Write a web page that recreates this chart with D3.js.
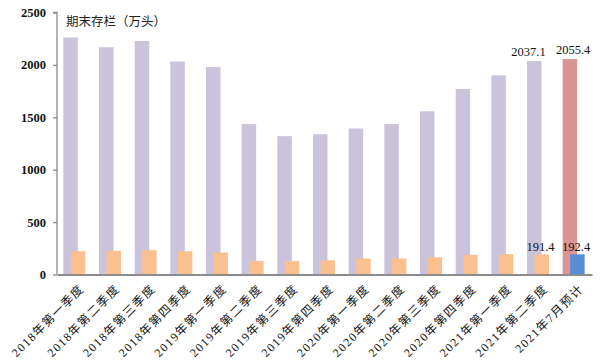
<!DOCTYPE html>
<html><head><meta charset="utf-8">
<script src="https://cdn.jsdelivr.net/npm/d3@7"></script>
<style>body{margin:0;background:#fff}svg{display:block}</style>
</head><body><svg id="c" width="600" height="364"></svg>
<script>
const categories = ["2018年第一季度","2018年第二季度","2018年第三季度","2018年第四季度","2019年第一季度","2019年第二季度","2019年第三季度","2019年第四季度","2020年第一季度","2020年第二季度","2020年第三季度","2020年第四季度","2021年第一季度","2021年第二季度","2021年7月预计"];
const stockValues = [2262,2168,2228,2032,1980,1435,1320,1338,1393,1436,1557,1770,1900,2037.1,2055.4];
const secondValues = [222,226,232,222,210,130,128,136,153,153,165,188,194,191.4,192.4];
const yTicks = [0,500,1000,1500,2000,2500];
const labeledIdx = [13,14];
const title = "期末存栏（万头）";

const svg = d3.select("#c");
const x = d3.scaleBand().domain(categories).range([57,592]).padding(0);
const y = d3.scaleLinear().domain([0,2500]).range([274.5,12.5]);
const bw = x.bandwidth();
const serif = "'Liberation Serif','DejaVu Serif',serif";
const cjk = "'Liberation Serif','Noto Sans CJK SC',serif";
const last = categories.length-1;

// bars
svg.append("g").selectAll("rect").data(stockValues).join("rect")
  .attr("x",(d,i)=>x(categories[i])+bw/2-11.5)
  .attr("width",14.5)
  .attr("y",d=>y(d)).attr("height",d=>y(0)-y(d))
  .attr("fill",(d,i)=>i===last?"#D99594":"#CBC2DC");
svg.append("g").selectAll("rect").data(secondValues).join("rect")
  .attr("x",(d,i)=>x(categories[i])+bw/2-4)
  .attr("width",14.5)
  .attr("y",d=>y(d)).attr("height",d=>y(0)-y(d))
  .attr("fill",(d,i)=>i===last?"#558ED5":"#FAC090");

// y axis
const ya = svg.append("g").attr("transform","translate(57,0)")
  .call(d3.axisLeft(y).tickValues(yTicks).tickSize(4).tickPadding(7).tickFormat(d3.format("d")));
ya.select(".domain").attr("stroke","#8c8c8c").attr("stroke-width",1.3).attr("d","M-4,"+y(2500)+"H0V"+y(0));
ya.selectAll(".tick line").attr("stroke","#8c8c8c").attr("stroke-width",1.3);
ya.selectAll(".tick text").attr("font-family",serif).attr("font-weight","bold").attr("font-size",12.5).attr("fill","#111");

// x axis
const xa = svg.append("g").attr("transform","translate(0,"+y(0)+")")
  .call(d3.axisBottom(x).tickSize(0).tickPadding(0));
xa.select(".domain").attr("stroke","#8c8c8c").attr("stroke-width",2);
xa.selectAll(".tick text")
  .attr("font-family",cjk).attr("font-size",12).attr("fill","#111")
  .attr("letter-spacing",1.4)
  .attr("text-anchor","end").attr("dy",0).attr("y",0)
  .attr("transform","translate(10,15) rotate(-45)");

// data labels
labeledIdx.forEach(i=>{
  const off = i===last ? -1 : -10;
  svg.append("text").attr("x",x(categories[i])+bw/2+off).attr("y",y(stockValues[i])-5)
    .attr("text-anchor","middle").attr("font-family",serif).attr("font-size",12.5).attr("fill","#111")
    .text(d3.format(".1f")(stockValues[i]));
  svg.append("text").attr("x",x(categories[i])+bw/2+2).attr("y",y(secondValues[i])-3)
    .attr("text-anchor","middle").attr("font-family",serif).attr("font-size",12.5).attr("fill","#111")
    .text(d3.format(".1f")(secondValues[i]));
});

svg.append("text").attr("x",66).attr("y",26).attr("font-family","'Noto Sans CJK SC',sans-serif")
  .attr("font-size",12.5).attr("fill","#222").attr("letter-spacing",0).text(title);
</script></body></html>
